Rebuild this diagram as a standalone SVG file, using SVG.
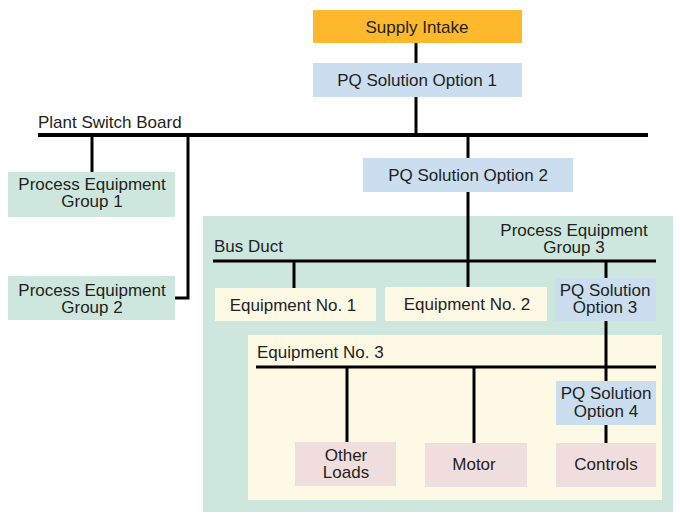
<svg xmlns="http://www.w3.org/2000/svg" width="680" height="517" viewBox="0 0 680 517">
<style>
text{font-family:"Liberation Sans",Arial,sans-serif;font-size:17px;fill:#231f20}
.c{text-anchor:middle}
.orange{fill:#fdb92b}
.blue{fill:#cadeef}
.green{fill:#cde7de}
.cream{fill:#fdf9e5}
.pink{fill:#f0dedf}
.bus{stroke:#000;stroke-width:4;fill:none}
.bus3{stroke:#000;stroke-width:3;fill:none}
.wire{stroke:#000;stroke-width:3;fill:none}
</style>
<rect width="680" height="517" fill="#fff"/>
<g id="group3">
<rect class="green" x="203" y="216" width="470" height="296"/>
<text class="c" x="574" y="236">Process Equipment</text>
<text class="c" x="574" y="253">Group 3</text>
</g>
<g id="equipment3">
<rect class="cream" x="248" y="335" width="414" height="165"/>
<text x="257" y="358">Equipment No. 3</text>
</g>
<g id="connectors">
<path class="wire" d="M416 43V63M416 97V133"/>
<path class="bus" d="M38 135H648"/>
<path class="wire" d="M92 135V172"/>
<path class="wire" d="M188 135V298H175"/>
<path class="wire" d="M468 135V158M468 192V287"/>
<path class="bus3" d="M213 261H656"/>
<path class="wire" d="M294 261V288"/>
<path class="wire" d="M606 261V278M606 321V381M606 425V443"/>
<path class="bus3" d="M256 367H656"/>
<path class="wire" d="M347 367V442"/>
<path class="wire" d="M474 367V443"/>
</g>
<g id="supply">
<rect class="orange" x="313" y="10" width="209" height="33"/>
<text class="c" x="417" y="33">Supply Intake</text>
</g>
<g id="pq1">
<rect class="blue" x="313" y="63" width="209" height="34"/>
<text class="c" x="417" y="86">PQ Solution Option 1</text>
</g>
<g id="switchboard">
<text x="38" y="128">Plant Switch Board</text>
</g>
<g id="group1">
<rect class="green" x="8" y="172" width="167" height="45"/>
<text class="c" x="92" y="190">Process Equipment</text>
<text class="c" x="92" y="207">Group 1</text>
</g>
<g id="group2">
<rect class="green" x="8" y="276" width="167" height="44"/>
<text class="c" x="92" y="296">Process Equipment</text>
<text class="c" x="92" y="313">Group 2</text>
</g>
<g id="pq2">
<rect class="blue" x="363" y="158" width="210" height="34"/>
<text class="c" x="468" y="181">PQ Solution Option 2</text>
</g>
<g id="busduct">
<text x="214" y="252">Bus Duct</text>
</g>
<g id="equipment1">
<rect class="cream" x="215" y="288" width="161" height="33"/>
<text class="c" x="293" y="311">Equipment No. 1</text>
</g>
<g id="equipment2">
<rect class="cream" x="385" y="287" width="162" height="34"/>
<text class="c" x="467" y="310">Equipment No. 2</text>
</g>
<g id="pq3">
<rect class="blue" x="555" y="278" width="101" height="43"/>
<text class="c" x="605" y="296">PQ Solution</text>
<text class="c" x="605" y="313">Option 3</text>
</g>
<g id="pq4">
<rect class="blue" x="556" y="381" width="100" height="44"/>
<text class="c" x="606" y="399">PQ Solution</text>
<text class="c" x="606" y="417">Option 4</text>
</g>
<g id="otherloads">
<rect class="pink" x="295" y="442" width="101" height="44"/>
<text class="c" x="346" y="461">Other</text>
<text class="c" x="346" y="478">Loads</text>
</g>
<g id="motor">
<rect class="pink" x="425" y="443" width="102" height="44"/>
<text class="c" x="474" y="470">Motor</text>
</g>
<g id="controls">
<rect class="pink" x="556" y="443" width="100" height="44"/>
<text class="c" x="606" y="470">Controls</text>
</g>
</svg>
